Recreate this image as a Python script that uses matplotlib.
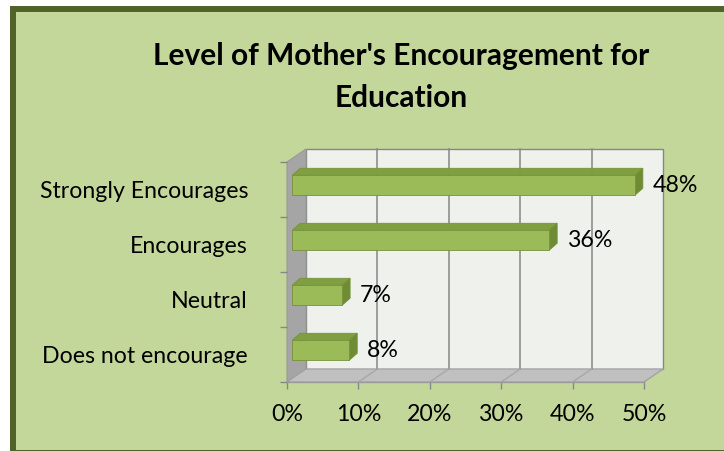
import matplotlib
matplotlib.use("Agg")
import matplotlib.pyplot as plt
from matplotlib.patches import Polygon, Rectangle, FancyBboxPatch

categories = ["Does not encourage", "Neutral", "Encourages", "Strongly Encourages"]
values = [8, 7, 36, 48]
value_labels = ["8%", "7%", "36%", "48%"]
xticks = [0, 10, 20, 30, 40, 50]
xtick_labels = ["0%", "10%", "20%", "30%", "40%", "50%"]
title = "Level of Mother's Encouragement for\nEducation"

plt.rcParams['font.family'] = ['Lato', 'DejaVu Sans']

W, H = 724, 451
fig = plt.figure(figsize=(W / 100, H / 100), dpi=100, facecolor="white")

# outer chart area with dark green border (right edge lies beyond the image)
bg = Rectangle((13 / W, -2 / H), (735 - 13) / W, (452 - 8) / H, transform=fig.transFigure,
               facecolor="#c4d79b", edgecolor="#4f6228", linewidth=4.3, zorder=-10)
fig.patches.append(bg)

# axes: front plane
x0p, x1p, ytop, ybot = 287, 644, 162, 382
ax = fig.add_axes([x0p / W, (H - ybot) / H, (x1p - x0p) / W, (ybot - ytop) / H])
ax.set_zorder(1)
ax.set_xlim(0, 50)
ax.set_ylim(0, 4)
ax.patch.set_alpha(0)
for s in ax.spines.values():
    s.set_visible(False)

pxx = 50 / (x1p - x0p)      # data units per pixel in x
pxy = 4 / (ybot - ytop)     # data units per pixel in y
DX, DY = 19 * pxx, 13 * pxy  # wall depth

grid_c = "#868686"
# back wall
ax.add_patch(Polygon([(DX, DY), (50 + DX, DY), (50 + DX, 4 + DY), (DX, 4 + DY)],
                     closed=True, facecolor="#eff2ec", edgecolor=grid_c, lw=1.0,
                     clip_on=False, zorder=1))
# side wall
ax.add_patch(Polygon([(0, 0), (DX, DY), (DX, 4 + DY), (0, 4)], closed=True,
                     facecolor="#a5a5a5", edgecolor="#9a9a9a", lw=0.8, clip_on=False, zorder=1))
# floor
ax.add_patch(Polygon([(0, 0), (50, 0), (50 + DX, DY), (DX, DY)], closed=True,
                     facecolor="#c0c0c0", edgecolor="#a0a0a0", lw=0.8, clip_on=False, zorder=1))
# gridlines
for xt in xticks[1:-1]:
    ax.plot([xt + DX, xt + DX], [DY, 4 + DY], color=grid_c, lw=1.1, clip_on=False, zorder=2)
for xt in xticks[1:]:
    ax.plot([xt, xt + DX], [0, DY], color="#a8a8a8", lw=1.0, clip_on=False, zorder=2)
ax.plot([0, 50], [0, 0], color="#9a9a9a", lw=1.0, clip_on=False, zorder=2)

# bars (3D look)
f = 0.27
ox, oy = f * DX, f * DY
bh = 20 * pxy
bdx, bdy = 8 * pxx, 7 * pxy
front_c, top_c, side_c, edge_c = "#9bbb59", "#7f9f41", "#6f8c35", "#76923c"
for i, v in enumerate(values):
    c = i + 0.5 + oy * 0.2
    yb, yt = c - bh / 2 + oy, c + bh / 2 + oy
    xl, xr = ox, v + ox
    ax.add_patch(Polygon([(xl, yt), (xr, yt), (xr + bdx, yt + bdy), (xl + bdx, yt + bdy)],
                         closed=True, facecolor=top_c, edgecolor=edge_c, lw=0.6, zorder=3, clip_on=False))
    ax.add_patch(Polygon([(xr, yb), (xr + bdx, yb + bdy), (xr + bdx, yt + bdy), (xr, yt)],
                         closed=True, facecolor=side_c, edgecolor=edge_c, lw=0.6, zorder=3, clip_on=False))
    ax.add_patch(Rectangle((xl, yb), v, bh, facecolor=front_c, edgecolor=edge_c, lw=0.6,
                           zorder=4, clip_on=False))
    ax.text(xr + bdx + 10 * pxx, (yb + yt) / 2, value_labels[i], ha="left", va="center",
            fontsize=16.7, color="black", zorder=5)

# ticks
ax.set_xticks(xticks)
ax.set_xticklabels(xtick_labels, fontsize=16.7)
ax.tick_params(axis="x", length=5, width=1.0, color=grid_c, pad=10.5)
ax.set_yticks([i + 0.5 for i in range(len(categories))])
ax.set_yticklabels(categories, fontsize=16.7)
ax.set_yticks(range(len(categories) + 1), minor=True)
ax.tick_params(axis="y", which="major", length=0, pad=28)
ax.tick_params(axis="y", which="minor", length=5, width=1.0, color=grid_c)

fig.text(401 / W, 1 - 77 / H, title, ha="center", va="center", fontsize=21.5,
         fontweight="bold", linespacing=1.57)

fig.savefig("out.png", dpi=100, facecolor="white")
